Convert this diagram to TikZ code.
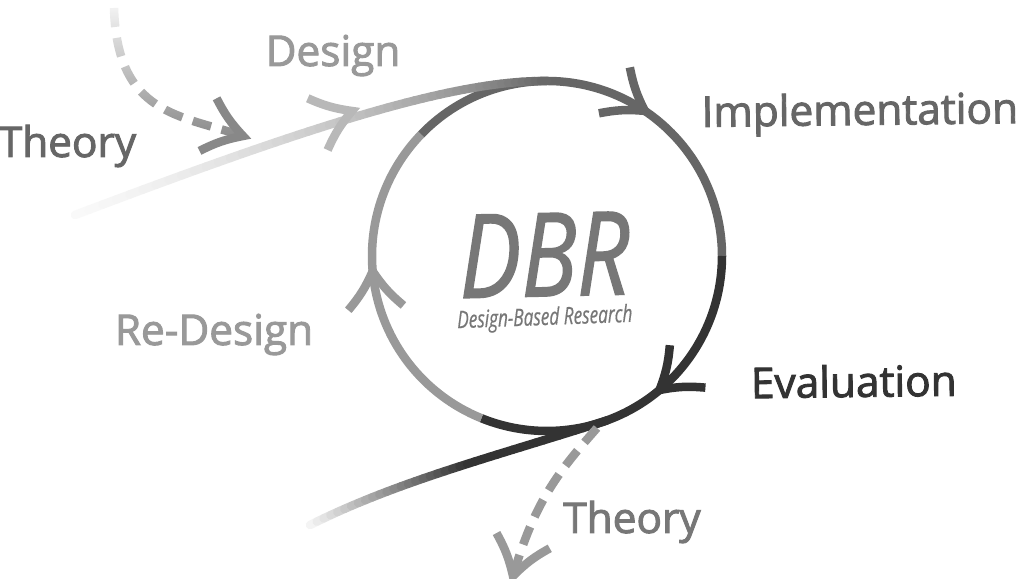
\documentclass[tikz,border=0pt]{standalone}
\usepackage{fontspec}
\setmainfont{Open Sans}
\newfontfamily\labfont{Open Sans}[FakeBold=2.2]
\newfontfamily\dbrfont{Open Sans}[FakeBold=1.5]
\newfontfamily\subfont{Open Sans}[FakeBold=0.6]
\usetikzlibrary{arrows.meta,fadings,calc}
\definecolor{cA}{HTML}{333333}
\definecolor{cB}{HTML}{666666}
\definecolor{cC}{HTML}{777777}
\definecolor{cD}{HTML}{999999}
\definecolor{cE}{HTML}{B8B8B8}
\definecolor{cF}{HTML}{888888}
\tikzfading[name=fadedown, top color=transparent!92, bottom color=transparent!0]
\newcommand{\barbtip}[3]{\draw[barbline,#3] ($(#1)+(#2+143:46)$) to[bend right=8] (#1) to[bend right=8] ($(#1)+(#2-143:46)$);}
\begin{document}
\begin{tikzpicture}[x=1bp,y=1bp,
  stroke/.style={line width=8.5bp},
  barbline/.style={line width=8.5bp, line join=miter, miter limit=10},
  dashline/.style={line width=8.5bp, dash pattern=on 19bp off 11bp},
  lab/.style={inner sep=0pt, anchor=base, font=\labfont\fontsize{42.5}{42.5}\selectfont}
]
\useasboundingbox (0,0) rectangle (1024,579);
\fill[white] (0,0) rectangle (1024,579);
\coordinate (C) at (547,323);
% circle arcs
\draw[stroke, cB] ($(C)+(136:175)$) arc[start angle=136, end angle=0, radius=175];
\draw[stroke, cA] ($(C)+(0:175)$) arc[start angle=0, end angle=-112, radius=175];
\draw[stroke, cD] ($(C)+(-112:175)$) arc[start angle=-112, end angle=-224, radius=175];
% incoming line (gradient)
\coordinate (inS) at (75,364);
\coordinate (inE) at (547,498);
\path (inS) .. controls (300,449) and (450,499) .. (inE)
  \foreach \i in {0,...,48} {coordinate[pos=\i/48] (in\i)};
\foreach \i in {0,...,47} {
  \pgfmathtruncatemacro{\j}{\i+1}
  \pgfmathsetmacro{\pc}{4+96*((\i+0.5)/48)^1.35}
  \draw[line width=8.5bp, line cap=round, color=cB!\pc!white] (in\i) -- (in\j);
}
\coordinate (inA) at (352,468);
\barbtip{inA}{21}{cE}
% outgoing line (gradient)
\coordinate (outS) at ($(C)+(-70:175)$);
\coordinate (outE) at (310,54);
\path (outE) .. controls (400,99) and (500,124) .. (outS)
  \foreach \i in {0,...,40} {coordinate[pos=\i/40] (out\i)};
\foreach \i in {0,...,39} {
  \pgfmathtruncatemacro{\j}{\i+1}
  \pgfmathsetmacro{\pc}{min(100,3+175*((\i+0.5)/40))}
  \draw[line width=8.5bp, line cap=round, color=cA!\pc!white] (out\i) -- (out\j);
}
% arrowheads on the circle
\coordinate (tipImpl) at ($(C)+(56:175)$);
\coordinate (tipEval) at ($(C)+(-50:175)$);
\coordinate (tipRe) at ($(C)+(185:175)$);
\barbtip{tipImpl}{-34}{cB}
\barbtip{tipEval}{-140}{cA}
\barbtip{tipRe}{95}{cD}
% dashed theory arrows
\coordinate (thS) at (114,571);
\coordinate (thE) at (243,443);
\draw[dashline, cF, path fading=fadedown] (thS) .. controls (117,464) and (180,464) .. (thE);
\barbtip{thE}{-18}{cF}
\coordinate (tbS) at (597,151);
\coordinate (tbE) at (513,3);
\draw[dashline, cD] (tbS) .. controls (560,109) and (535,79) .. (tbE);
\barbtip{tbE}{-106}{cD}
% labels
\node[lab, text=cB] (theoryA) at (67.5,422) {Theory};
\node[lab, text=cD] (design) at (333,513) {Design};
\node[lab, text=cB, rotate=0.7] (impl) at (860,454) {Implementation};
\node[lab, text=cA, rotate=0.7] (eval) at (854,182) {Evaluation};
\node[lab, text=cD] (redesign) at (214,234) {Re-Design};
\node[lab, text=cC] (theoryB) at (632,46) {Theory};
\node[inner sep=0pt, anchor=base, text=cC, xscale=0.8, rotate=1, font=\dbrfont\itshape\fontsize{116}{116}\selectfont] (dbr) at (545,283) {DBR};
\node[inner sep=0pt, anchor=base, text=cC, xscale=0.72, rotate=1.5, font=\subfont\itshape\fontsize{24}{24}\selectfont] (dbrsub) at (545,254) {Design-Based Research};
\end{tikzpicture}
\end{document}
